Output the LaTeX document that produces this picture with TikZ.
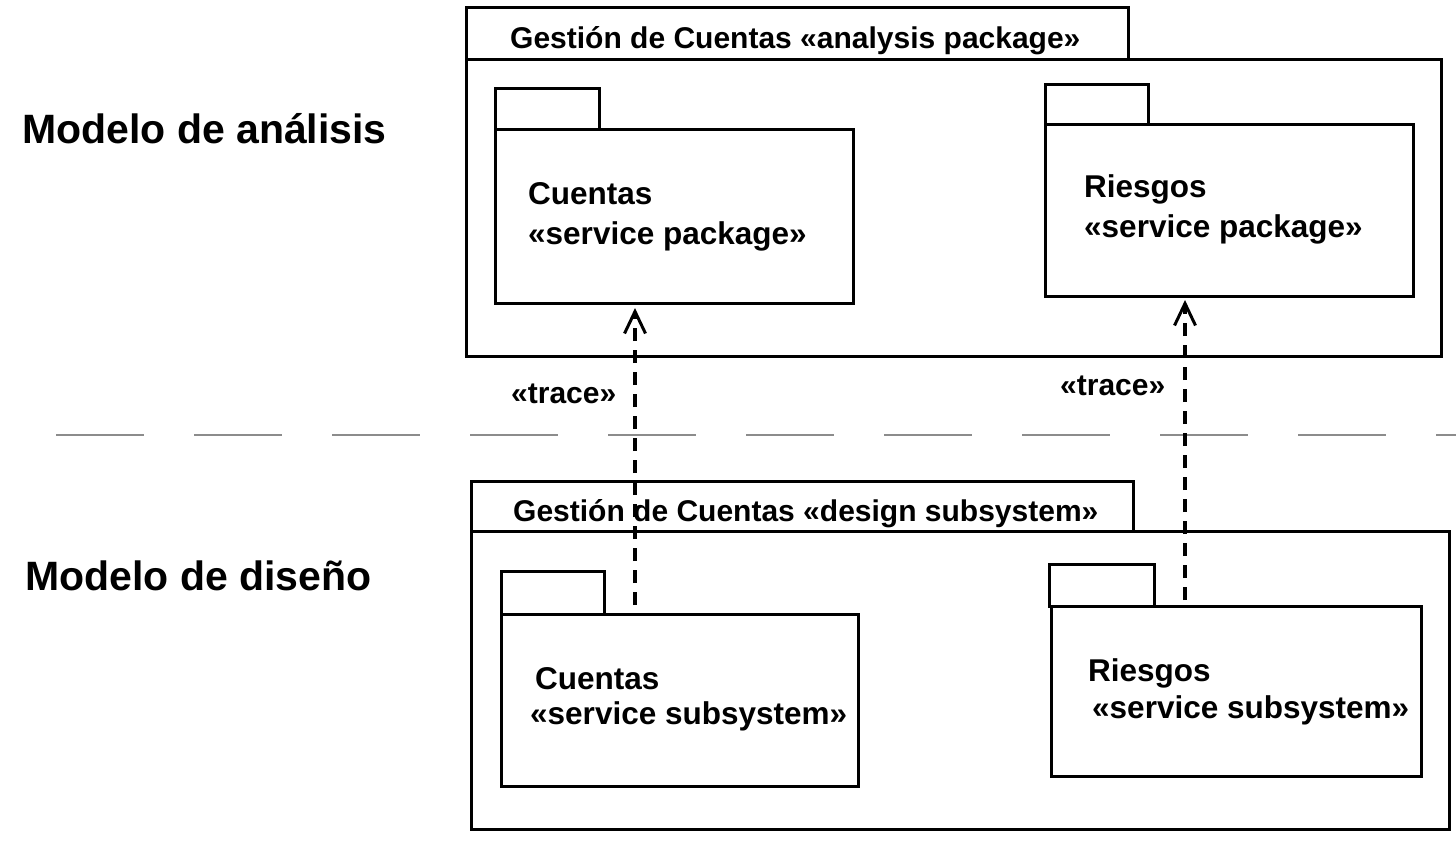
\documentclass[tikz,border=0pt]{standalone}
\usepackage{fontspec}
\setmainfont{Liberation Sans}
\usetikzlibrary{arrows.meta}
\begin{document}
\begin{tikzpicture}[x=1pt,y=-1pt,
  box/.style={draw=black,line width=3pt,fill=none,inner sep=0pt,anchor=north west},
  lbl/.style={anchor=base west,inner sep=0pt,font=\fontsize{30}{36}\selectfont\bfseries},
  inner/.style={anchor=base west,inner sep=0pt,font=\fontsize{31.5}{36}\selectfont\bfseries},
  big/.style={anchor=base west,inner sep=0pt,font=\fontsize{41}{48}\selectfont\bfseries},
  trace/.style={draw=black,line width=3.4pt,dash pattern=on 13pt off 9pt,-{Straight Barb[length=22pt,width=21pt,line width=3pt]}},
  sep/.style={draw=black!45,line width=2.4pt,dash pattern=on 88pt off 50pt}]
\useasboundingbox (0,0) rectangle (1456,841);
% analysis package
\node[box,minimum width=662pt,minimum height=52pt] (atab) at (465,6) {};
\node[box,minimum width=975pt,minimum height=297pt] (abody) at (465,58) {};
\node[lbl] (atitle) at (510,48) {Gestión de Cuentas «analysis package»};
\node[box,minimum width=104pt,minimum height=41pt] (actab) at (494,87) {};
\node[box,minimum width=358pt,minimum height=174pt] (ac) at (494,128) {};
\node[inner] (ac1) at (528,204) {Cuentas};
\node[inner] (ac2) at (528,244) {«service package»};
\node[box,minimum width=103pt,minimum height=40pt] (artab) at (1044,83) {};
\node[box,minimum width=368pt,minimum height=172pt] (ar) at (1044,123) {};
\node[inner] (ar1) at (1084,197) {Riesgos};
\node[inner] (ar2) at (1084,237) {«service package»};
% design subsystem
\node[box,minimum width=662pt,minimum height=50pt] (dtab) at (470,480) {};
\node[box,minimum width=978pt,minimum height=298pt] (dbody) at (470,530) {};
\node[lbl] (dtitle) at (513,521) {Gestión de Cuentas «design subsystem»};
\node[box,minimum width=103pt,minimum height=43pt] (dctab) at (500,570) {};
\node[box,minimum width=357pt,minimum height=172pt] (dc) at (500,613) {};
\node[inner] (dc1) at (535,689) {Cuentas};
\node[inner] (dc2) at (530,724) {«service subsystem»};
\node[box,minimum width=105pt,minimum height=42pt] (drtab) at (1048,563) {};
\node[box,minimum width=370pt,minimum height=170pt] (dr) at (1050,605) {};
\node[inner] (dr1) at (1088,681) {Riesgos};
\node[inner] (dr2) at (1092,718) {«service subsystem»};
% model labels
\node[big] (m1) at (22,143) {Modelo de análisis};
\node[big] (m2) at (25,590) {Modelo de diseño};
% separator
\coordinate (s0) at (56,435);
\coordinate (s1) at (1456,435);
\draw[sep] (s0) -- (s1);
% traces
\coordinate (t1s) at (635,605);
\coordinate (t1e) at (635,308);
\coordinate (t2s) at (1185,600);
\coordinate (t2e) at (1185,300);
\draw[trace] (t1s) -- (t1e);
\draw[trace] (t2s) -- (t2e);
\node[lbl] (tr1) at (511,403) {«trace»};
\node[lbl] (tr2) at (1060,395) {«trace»};
\end{tikzpicture}
\end{document}
